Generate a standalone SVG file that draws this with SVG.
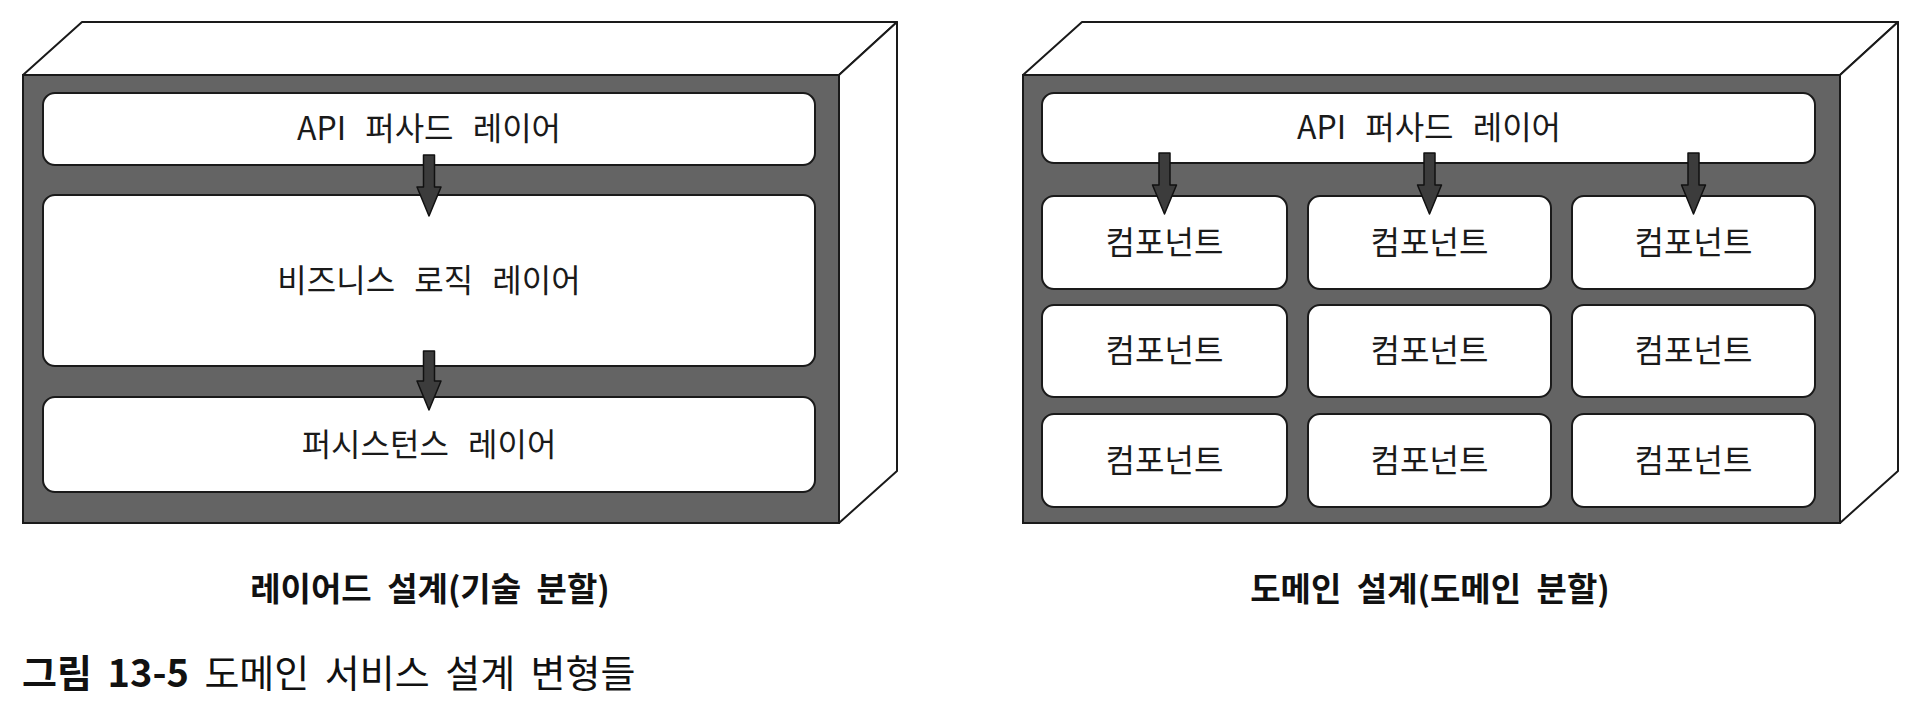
<svg xmlns="http://www.w3.org/2000/svg" width="1924" height="716" viewBox="0 0 1924 716">
<style>
.bg{fill:#ffffff}
.face{fill:#ffffff;stroke:#1a1a1a;stroke-width:2;stroke-linejoin:round}
.front{fill:#646464;stroke:#1a1a1a;stroke-width:2}
.box{fill:#ffffff;stroke:#1a1a1a;stroke-width:2}
.lbl{font-family:"Noto Sans CJK KR","Noto Sans",sans-serif;font-size:32px;fill:#1a1a1a;text-anchor:middle;word-spacing:12px}
.cap{font-family:"Noto Sans CJK KR","Noto Sans",sans-serif;font-size:33px;font-weight:bold;fill:#111;text-anchor:middle;word-spacing:8px}
.fig{font-family:"Noto Sans CJK KR","Noto Sans",sans-serif;font-size:38px;fill:#111;word-spacing:7px}
.arrow{fill:#3c3c3c;stroke:#111;stroke-width:1.5;stroke-linejoin:round}
</style>
<rect class="bg" x="0" y="0" width="1924" height="716"/>

<g id="layered-container">
  <polygon class="face" points="23,75 82,22 897,22 839,75"/>
  <polygon class="face" points="839,75 897,22 897,471 839,523"/>
  <rect class="front" x="23" y="75" width="816" height="448"/>
</g>
<g id="layered-api">
  <rect class="box" x="43" y="93" width="772" height="72" rx="12"/>
  <text class="lbl" x="429" y="140">API 퍼사드 레이어</text>
</g>
<g id="layered-business">
  <rect class="box" x="43" y="195" width="772" height="171" rx="12"/>
  <text class="lbl" x="429" y="292">비즈니스 로직 레이어</text>
</g>
<g id="layered-persistence">
  <rect class="box" x="43" y="397" width="772" height="95" rx="12"/>
  <text class="lbl" x="429" y="456">퍼시스턴스 레이어</text>
</g>

<g id="domain-container">
  <polygon class="face" points="1023,75 1082,22 1898,22 1840,75"/>
  <polygon class="face" points="1840,75 1898,22 1898,471 1840,523"/>
  <rect class="front" x="1023" y="75" width="817" height="448"/>
</g>
<g id="domain-api">
  <rect class="box" x="1042" y="93" width="773" height="70" rx="12"/>
  <text class="lbl" x="1429" y="139">API 퍼사드 레이어</text>
</g>
<g id="comp-1-1"><rect class="box" x="1042" y="196" width="245" height="93" rx="12"/><text class="lbl" x="1164.5" y="254">컴포넌트</text></g>
<g id="comp-1-2"><rect class="box" x="1308" y="196" width="243" height="93" rx="12"/><text class="lbl" x="1429.5" y="254">컴포넌트</text></g>
<g id="comp-1-3"><rect class="box" x="1572" y="196" width="243" height="93" rx="12"/><text class="lbl" x="1693.5" y="254">컴포넌트</text></g>
<g id="comp-2-1"><rect class="box" x="1042" y="305" width="245" height="92" rx="12"/><text class="lbl" x="1164.5" y="362">컴포넌트</text></g>
<g id="comp-2-2"><rect class="box" x="1308" y="305" width="243" height="92" rx="12"/><text class="lbl" x="1429.5" y="362">컴포넌트</text></g>
<g id="comp-2-3"><rect class="box" x="1572" y="305" width="243" height="92" rx="12"/><text class="lbl" x="1693.5" y="362">컴포넌트</text></g>
<g id="comp-3-1"><rect class="box" x="1042" y="414" width="245" height="93" rx="12"/><text class="lbl" x="1164.5" y="472">컴포넌트</text></g>
<g id="comp-3-2"><rect class="box" x="1308" y="414" width="243" height="93" rx="12"/><text class="lbl" x="1429.5" y="472">컴포넌트</text></g>
<g id="comp-3-3"><rect class="box" x="1572" y="414" width="243" height="93" rx="12"/><text class="lbl" x="1693.5" y="472">컴포넌트</text></g>

<g id="connectors">
  <polygon class="arrow" points="423.5,155 434.5,155 434.5,187 441,187 429,216 417,187 423.5,187"/>
  <polygon class="arrow" points="423.5,351 434.5,351 434.5,381 441,381 429,410 417,381 423.5,381"/>
  <polygon class="arrow" points="1159,153 1170,153 1170,185 1176.5,185 1164.5,214 1152.5,185 1159,185"/>
  <polygon class="arrow" points="1424,153 1435,153 1435,185 1441.5,185 1429.5,214 1417.5,185 1424,185"/>
  <polygon class="arrow" points="1688,153 1699,153 1699,185 1705.5,185 1693.5,214 1681.5,185 1688,185"/>
</g>

<g id="captions">
  <text class="cap" x="430" y="601">레이어드 설계(기술 분할)</text>
  <text class="cap" x="1430" y="601">도메인 설계(도메인 분할)</text>
  <text class="fig" x="22" y="687"><tspan font-weight="bold">그림 13-5</tspan> 도메인 서비스 설계 변형들</text>
</g>
</svg>
